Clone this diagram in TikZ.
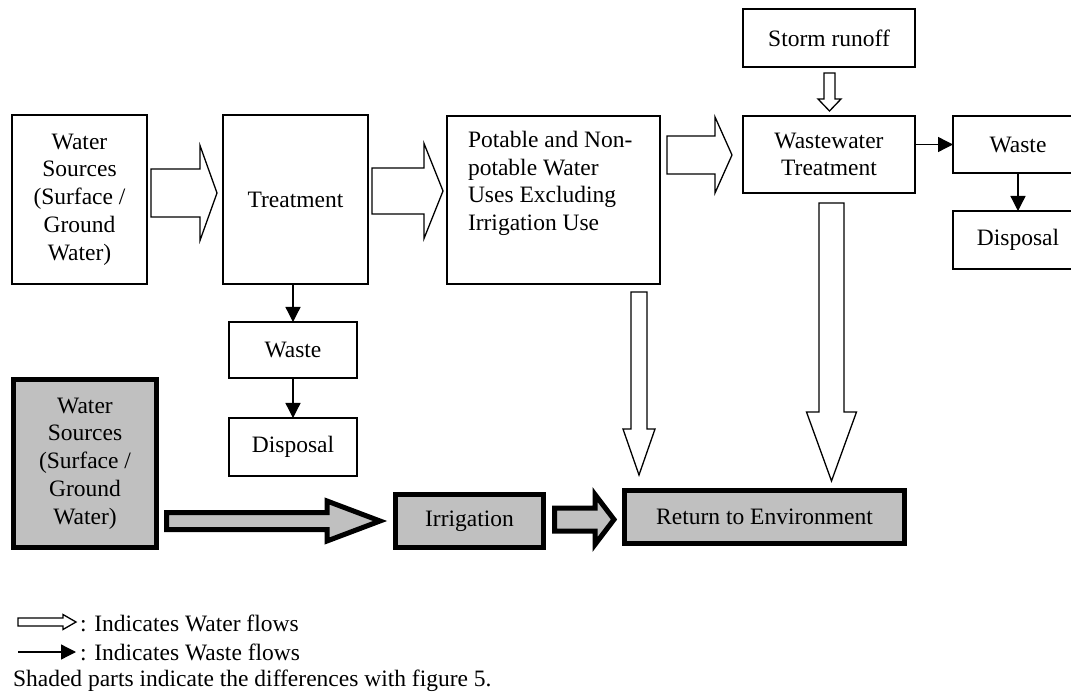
\documentclass[tikz,border=0pt]{standalone}
\usepackage{fontspec}
\setmainfont{Liberation Serif}
\usetikzlibrary{arrows.meta}
\definecolor{shade}{RGB}{192,192,192}

% Block arrow pointing right: [style]{x start}{x tip}{y centre}{shaft half}{head half}{head length}
\newcommand\flowright[7][water]{%
  \draw[#1] (#2,#4-#5) -- (#3-#7,#4-#5) -- (#3-#7,#4-#6) -- (#3,#4)
    -- (#3-#7,#4+#6) -- (#3-#7,#4+#5) -- (#2,#4+#5) -- cycle;}
% Block arrow pointing down: [style]{x centre}{y start}{y tip}{shaft half}{head half}{head length}
\newcommand\flowdown[7][water]{%
  \draw[#1] (#2-#5,#3) -- (#2-#5,#4-#7) -- (#2-#6,#4-#7) -- (#2,#4)
    -- (#2+#6,#4-#7) -- (#2+#5,#4-#7) -- (#2+#5,#3) -- cycle;}

\begin{document}
\begin{tikzpicture}[x=1pt,y=-1pt,
  every node/.style={font=\fontsize{23.5}{27.7}\selectfont, inner sep=0pt, outer sep=0pt},
  box/.style={draw, line width=1.3pt, align=center},
  shadedbox/.style={draw, line width=5pt, fill=shade, align=center},
  water/.style={draw, line width=1.3pt, fill=white},
  waterthick/.style={draw, line width=5pt, fill=shade},
  waste/.style={line width=1.3pt, -{Triangle[length=15pt,width=15pt]}}]

\useasboundingbox (0,0) rectangle (1071,700);
\clip (0,0) rectangle (1071,700);

% conventional supply chain
\node[box, minimum width=135pt, minimum height=169pt] (src) at (79.5,199.5)
  {Water\\Sources\\(Surface /\\Ground\\Water)};
\node[box, minimum width=145pt, minimum height=169pt] (treat) at (295.5,199.5) {Treatment};
\node[box, minimum width=213pt, minimum height=168pt] (uses) at (553.5,200) {};
\node[anchor=north west, align=left] (useslabel) at (468,131)
  {Potable and Non-\\potable Water\\Uses Excluding\\Irrigation Use};
\node[box, minimum width=172pt, minimum height=58pt] (storm) at (829,38) {Storm runoff};
\node[box, minimum width=172pt, minimum height=77pt] (wwt) at (829,154.5) {Wastewater\\Treatment};
\node[box, minimum width=130pt, minimum height=57pt] (wasteR) at (1018,144.5) {Waste};
\node[box, minimum width=130pt, minimum height=58pt] (dispR) at (1018,240) {Disposal};
\node[box, minimum width=128pt, minimum height=56pt] (wasteL) at (293,350) {Waste};
\node[box, minimum width=128pt, minimum height=58pt] (dispL) at (293,447) {Disposal};

% irrigation chain (shaded)
\node[shadedbox, minimum width=143pt, minimum height=168pt] (src2) at (85,463.5)
  {Water\\Sources\\(Surface /\\Ground\\Water)};
\node[shadedbox, minimum width=148pt, minimum height=53pt] (irr) at (469.5,521) {Irrigation};
\node[shadedbox, minimum width=280pt, minimum height=53pt] (ret) at (764.5,517) {Return to Environment};

% water flows
\flowright{151}{217}{193}{24}{47.5}{17}
\flowright{372}{443}{191}{23}{47.5}{19}
\flowright{667}{732}{155}{19}{38}{17}
\flowdown{829.5}{73}{111}{5.5}{11.5}{12}
\flowdown{639}{292}{475}{8}{16}{46}
\flowdown{831.5}{203}{481}{12.5}{25}{69}
\flowright[waterthick]{166.5}{380}{521}{8.5}{20}{53}
\flowright[waterthick]{554.5}{614}{519.5}{11.5}{25}{19}

% waste flows
\draw[waste] (wasteL.north |- treat.south) -- (wasteL.north);
\draw[waste] (wasteL) -- (dispL);
\draw[waste] (wasteR.west -| wwt.east) -- (wasteR.west);
\draw[waste] (wasteR) -- (dispR);

% legend
\flowright{18}{76}{622}{4}{7.5}{13}
\node[anchor=west] (legwater) at (80,623) {: Indicates Water flows};
\coordinate (lw0) at (18,652);
\coordinate (lw1) at (76,652);
\draw[waste] (lw0) -- (lw1);
\node[anchor=west] (legwaste) at (80,652) {: Indicates Waste flows};
\node[anchor=west] (legshade) at (13,680.5) {Shaded parts indicate the differences with figure 5.};
\end{tikzpicture}
\end{document}
